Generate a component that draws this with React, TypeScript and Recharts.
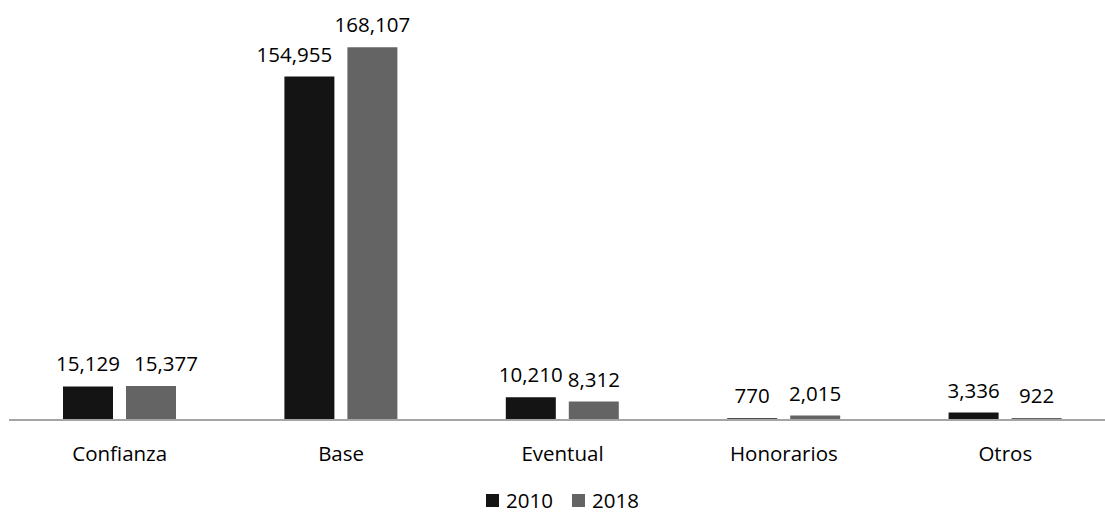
import React from "react"
import { Bar, BarChart, LabelList, Legend, XAxis, YAxis } from "recharts"

const categories = ["Confianza", "Base", "Eventual", "Honorarios", "Otros"]
const values2010 = [15129, 154955, 10210, 770, 3336]
const values2018 = [15377, 168107, 8312, 2015, 922]

const seriesNames = ["2010", "2018"]
const seriesColors = ["#141414", "#646464"]

const data = categories.map((name, i) => ({
  name,
  "2010": values2010[i],
  "2018": values2018[i],
}))

const font = "'Open Sans', sans-serif"
const fontSize = 20.5
const fmt = (v: any) => Number(v).toLocaleString("en-US")

// labels nudged sideways where they would collide (as the original does)
const labelNudge: Record<string, number> = {
  "2018-Confianza": 15,
  "2010-Base": -15,
}

const makeLabel = (series: string) => (props: any) => {
  const { x, y, width, value, index } = props
  const dx = labelNudge[`${series}-${categories[index]}`] || 0
  return (
    <text
      x={x + width / 2 + dx}
      y={y - 15}
      textAnchor="middle"
      fill="#000"
      fontSize={fontSize}
      fontFamily={font}
    >
      {fmt(value)}
    </text>
  )
}

const LegendContent = () => (
  <div
    style={{
      height: 18,
      display: "flex",
      justifyContent: "center",
      alignItems: "center",
      fontFamily: font,
      fontSize,
      lineHeight: "18px",
      color: "#000",
    }}
  >
    {seriesNames.map((s, i) => (
      <span
        key={s}
        style={{ display: "flex", alignItems: "center", marginRight: i === 0 ? 19 : 0 }}
      >
        <span
          style={{ width: 13, height: 13, background: seriesColors[i], marginRight: 7 }}
        />
        <span style={{ lineHeight: "18px" }}>{s}</span>
      </span>
    ))}
  </div>
)

export default function App() {
  return (
    <div
      style={{
        position: "fixed",
        left: 0,
        top: 0,
        width: 1105,
        height: 514,
        overflow: "hidden",
        background: "#fff",
      }}
    >
      <BarChart
        width={1130}
        height={514}
        data={data}
        margin={{ top: 21, right: 14, bottom: 5, left: 9 }}
        barSize={50}
        barGap={13}
        barCategoryGap={54}
      >
        <XAxis
          dataKey="name"
          height={71}
          tickLine={false}
          tickMargin={20}
          stroke="#a5a5a5"
          strokeWidth={2}
          tick={{ fill: "#000", fontSize, fontFamily: font }}
        />
        <YAxis hide domain={[0, 180000]} />
        <Legend verticalAlign="bottom" height={18} content={<LegendContent />} />
        {seriesNames.map((s, i) => (
          <Bar key={s} dataKey={s} fill={seriesColors[i]} isAnimationActive={false}>
            <LabelList dataKey={s} content={makeLabel(s)} />
          </Bar>
        ))}
      </BarChart>
    </div>
  )
}
